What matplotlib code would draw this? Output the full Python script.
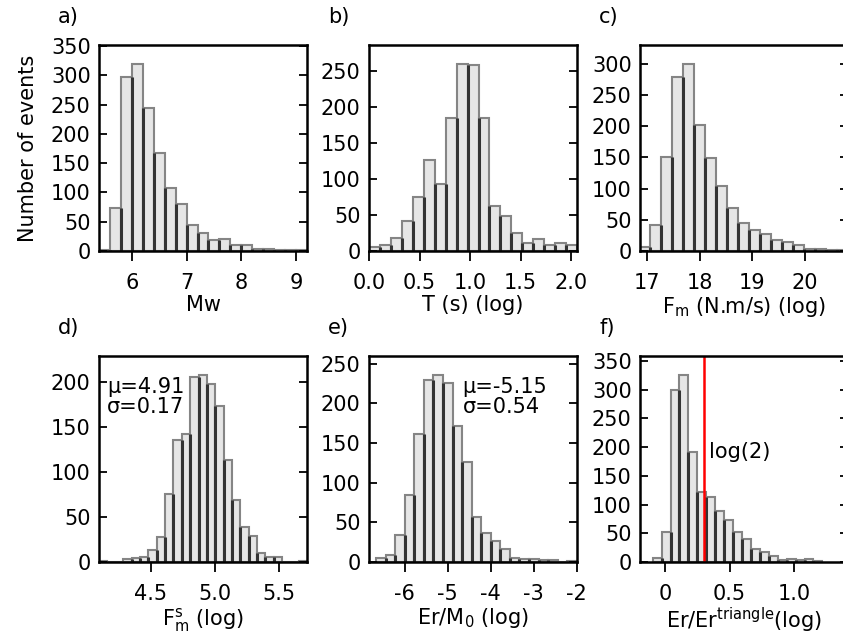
import numpy as np
import matplotlib
matplotlib.use("Agg")
import matplotlib.pyplot as plt
from matplotlib.ticker import MultipleLocator, FixedLocator, FixedFormatter

plt.rcParams['font.family'] = ['DejaVu Sans']
plt.rcParams['font.size'] = 15
plt.rcParams['axes.linewidth'] = 1.8
plt.rcParams['axes.unicode_minus'] = False
plt.rcParams['mathtext.default'] = 'regular'

# histogram counts, with first bin edge and bin width
mw_counts = [1, 73, 298, 320, 245, 167, 108, 81, 45, 30, 19, 20, 10, 11, 4, 3, 2, 1, 1]
mw_start, mw_width = 5.4, 0.2

t_counts = [5, 8, 18, 42, 75, 126, 93, 185, 260, 258, 185, 63, 49, 25, 11, 17, 9, 11, 8]
t_start, t_width = 0.0, 0.1083

fm_counts = [7, 41, 150, 278, 300, 202, 149, 104, 69, 45, 34, 28, 18, 14, 10, 4, 3, 2, 1]
fm_start, fm_width = 16.845, 0.2087

fms_counts = [1, 0, 0, 3, 4, 5, 13, 28, 75, 135, 142, 205, 208, 198, 173, 113, 69, 39,
              29, 10, 5, 5, 0, 0, 1]
fms_start, fms_width = 4.09, 0.0652

erm0_counts = [5, 9, 34, 84, 161, 229, 236, 226, 172, 126, 57, 36, 26, 17, 5, 4, 4, 2, 2, 0, 1]
erm0_start, erm0_width = -6.667, 0.2225

ertri_counts = [7, 53, 300, 326, 191, 122, 114, 88, 73, 53, 40, 23, 17, 11, 4, 5, 3, 5, 1]
ertri_start, ertri_width = -0.095, 0.0691

panels = [
    ('a)', mw_counts, mw_start, mw_width, (5.4, 9.2), [6, 7, 8, 9], None, 'Mw'),
    ('b)', t_counts, t_start, t_width, (0.0, 2.057), [0.0, 0.5, 1.0, 1.5, 2.0],
     ['0.0', '0.5', '1.0', '1.5', '2.0'], 'T (s) (log)'),
    ('c)', fm_counts, fm_start, fm_width, (16.86, 20.82), [17, 18, 19, 20], None,
     r'F$_{\rm m}$ (N.m/s) (log)'),
    ('d)', fms_counts, fms_start, fms_width, (4.095, 5.72), [4.5, 5.0, 5.5],
     ['4.5', '5.0', '5.5'], r'F$^{\rm s}_{\rm m}$ (log)'),
    ('e)', erm0_counts, erm0_start, erm0_width, (-6.83, -1.99), [-6, -5, -4, -3, -2], None,
     r'Er/M$_0$ (log)'),
    ('f)', ertri_counts, ertri_start, ertri_width, (-0.193, 1.416), [0, 0.5, 1.0],
     ['0', '0.5', '1.0'], r'Er/Er$^{\rm triangle}$(log)'),
]

W, H = 843, 634
fig = plt.figure(figsize=(W / 100, H / 100), dpi=100)
lefts = [99, 369, 640]
tops = [45, 356]
aw, ah = 208, 206

axes = []
for i, (tag, counts, start, width, xlim, xt, xtl, xlabel) in enumerate(panels):
    r, c = divmod(i, 3)
    ax = fig.add_axes([lefts[c] / W, 1 - (tops[r] + ah) / H, aw / W, ah / H])
    counts = np.array(counts, dtype=float)
    edges = start + width * np.arange(len(counts) + 1)
    ax.bar(edges[:-1], counts, width=width, align='edge', facecolor='#e6e6e6',
           edgecolor='#858585', linewidth=1.5)
    # shared bar sides look darker where the outlines overlap
    ax.vlines(edges[1:-1], 0, np.minimum(counts[:-1], counts[1:]),
              color='#333333', linewidth=2.2)
    ax.set_xlim(*xlim)
    ax.set_ylim(0, 1.1 * counts.max())
    ax.yaxis.set_major_locator(MultipleLocator(50))
    ax.xaxis.set_major_locator(FixedLocator(xt))
    if xtl is not None:
        ax.xaxis.set_major_formatter(FixedFormatter(xtl))
    ax.tick_params(axis='x', direction='out', length=7, width=1.3, pad=9, top=False)
    ax.tick_params(axis='y', direction='in', length=6, width=1.3, pad=6, right=True)
    ax.set_xlabel(xlabel, labelpad=1)
    ax.text(-0.197, 1.136, tag, transform=ax.transAxes, ha='left', va='center')
    axes.append(ax)

axes[0].set_ylabel('Number of events', labelpad=9)
axes[3].text(0.04, 0.80, 'μ=4.91\nσ=0.17', transform=axes[3].transAxes,
             ha='left', va='center', linespacing=1.0)
axes[4].text(0.45, 0.80, 'μ=-5.15\nσ=0.54', transform=axes[4].transAxes,
             ha='left', va='center', linespacing=1.0)
axes[5].axvline(np.log10(2), color='r', linewidth=1.8)
axes[5].text(0.333, 0.533, 'log(2)', transform=axes[5].transAxes, ha='left', va='center')

fig.savefig('out.png', dpi=100, facecolor='white')
